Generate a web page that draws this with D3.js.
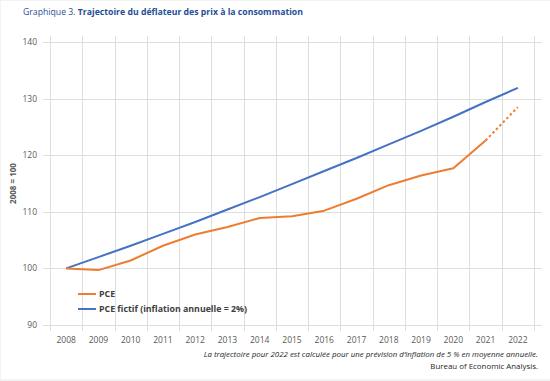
<!DOCTYPE html>
<html>
<head>
<meta charset="utf-8">
<script src="https://cdn.jsdelivr.net/npm/d3@7"></script>
<style>
body { margin: 0; background: #f3f3f3; }
svg { display: block; font-family: "Open Sans", sans-serif; }
.grid line { stroke: #dedede; stroke-width: 1; shape-rendering: crispEdges; }
.tick-label { font-size: 8.5px; fill: #595959; }
.legend text { font-size: 8.8px; font-weight: bold; fill: #404040; }
</style>
</head>
<body>
<div id="chart"></div>
<script>
var years = ["2008", "2009", "2010", "2011", "2012", "2013", "2014", "2015",
             "2016", "2017", "2018", "2019", "2020", "2021", "2022"];
var pce = [100, 99.7, 101.4, 104.0, 106.0, 107.3, 108.9, 109.2,
           110.2, 112.3, 114.7, 116.4, 117.7, 122.6, 128.5];
var pceFictif = [100, 102.0, 104.0, 106.1, 108.2, 110.4, 112.6, 114.9,
                 117.2, 119.5, 121.9, 124.3, 126.8, 129.4, 131.9];
var yTicks = [90, 100, 110, 120, 130, 140];
var legendLabels = ["PCE", "PCE fictif (inflation annuelle = 2%)"];

var width = 550, height = 381;
var plotLeft = 50, plotRight = 534, plotTop = 42, plotBottom = 325;

var svg = d3.select("#chart").append("svg")
    .attr("width", width)
    .attr("height", height);

svg.append("rect")
    .attr("x", 1).attr("y", 1)
    .attr("width", 549).attr("height", 378)
    .attr("fill", "#fff");

var xBand = d3.scaleBand().domain(years).range([plotLeft, plotRight]);
var x = d3.scalePoint().domain(years).range([plotLeft, plotRight]).padding(0.5);
var y = d3.scaleLinear().domain([90, 140]).range([plotBottom, plotTop]);

// title
var title = svg.append("text")
    .attr("x", 23).attr("y", 15)
    .style("font-size", "8.7px")
    .attr("fill", "#1f4e96");
title.append("tspan").text("Graphique 3. ");
title.append("tspan").attr("font-weight", "bold").text("Trajectoire du déflateur des prix à la consommation");

// grid
var grid = svg.append("g").attr("class", "grid");
grid.selectAll(".h").data(yTicks).enter().append("line")
    .attr("x1", 43).attr("x2", 542)
    .attr("y1", function(d) { return Math.round(y(d)) + 0.5; })
    .attr("y2", function(d) { return Math.round(y(d)) + 0.5; });
var vx = years.map(function(d) { return xBand(d); }).concat([plotRight]);
grid.selectAll(".v").data(vx).enter().append("line")
    .attr("x1", function(d) { return Math.round(d) + 0.5; })
    .attr("x2", function(d) { return Math.round(d) + 0.5; })
    .attr("y1", 36).attr("y2", 331);

// y labels
svg.selectAll(".ylab").data(yTicks).enter().append("text")
    .attr("class", "tick-label")
    .attr("x", 37)
    .attr("y", function(d) { return y(d) + 3; })
    .attr("text-anchor", "end")
    .text(function(d) { return d; });

// x labels
svg.selectAll(".xlab").data(years).enter().append("text")
    .attr("class", "tick-label")
    .attr("x", function(d) { return x(d); })
    .attr("y", 343)
    .attr("text-anchor", "middle")
    .text(function(d) { return d; });

// y axis title
svg.append("text")
    .attr("transform", "translate(16," + ((plotTop + plotBottom) / 2) + ") rotate(-90)")
    .attr("text-anchor", "middle")
    .style("font-size", "8px")
    .style("font-weight", "bold")
    .attr("fill", "#595959")
    .text("2008 = 100");

var line = d3.line()
    .x(function(d) { return x(d.year); })
    .y(function(d) { return y(d.v); });

var fictifData = years.map(function(d, i) { return {year: d, v: pceFictif[i]}; });
var pceData = years.map(function(d, i) { return {year: d, v: pce[i]}; });

svg.append("path")
    .datum(fictifData)
    .attr("d", line)
    .attr("fill", "none")
    .attr("stroke", "#4472c4")
    .attr("stroke-width", 2);

svg.append("path")
    .datum(pceData.slice(0, 14))
    .attr("d", line)
    .attr("fill", "none")
    .attr("stroke", "#ed7d31")
    .attr("stroke-width", 2)
    .attr("stroke-linejoin", "round");

svg.append("path")
    .datum(pceData.slice(13))
    .attr("d", line)
    .attr("fill", "none")
    .attr("stroke", "#ed7d31")
    .attr("stroke-width", 2)
    .attr("stroke-dasharray", "2.5,2.5");

// legend
var legendColors = ["#ed7d31", "#4472c4"];
var legend = svg.append("g").attr("class", "legend");
legendLabels.forEach(function(lab, i) {
  var ly = 294 + i * 15;
  legend.append("line")
      .attr("x1", 78).attr("x2", 96)
      .attr("y1", ly).attr("y2", ly)
      .attr("stroke", legendColors[i])
      .attr("stroke-width", 2);
  legend.append("text")
      .attr("x", 99).attr("y", ly + 3)
      .text(lab);
});

// notes
svg.append("text")
    .attr("x", 538).attr("y", 357)
    .attr("text-anchor", "end")
    .style("font-size", "7.9px")
    .style("font-style", "italic")
    .attr("fill", "#262626")
    .text("La trajectoire pour 2022 est calculée pour une prévision d’inflation de 5 % en moyenne annuelle.");
svg.append("text")
    .attr("x", 538).attr("y", 369)
    .attr("text-anchor", "end")
    .style("font-size", "7.9px")
    .attr("fill", "#262626")
    .text("Bureau of Economic Analysis.");
</script>
</body>
</html>
